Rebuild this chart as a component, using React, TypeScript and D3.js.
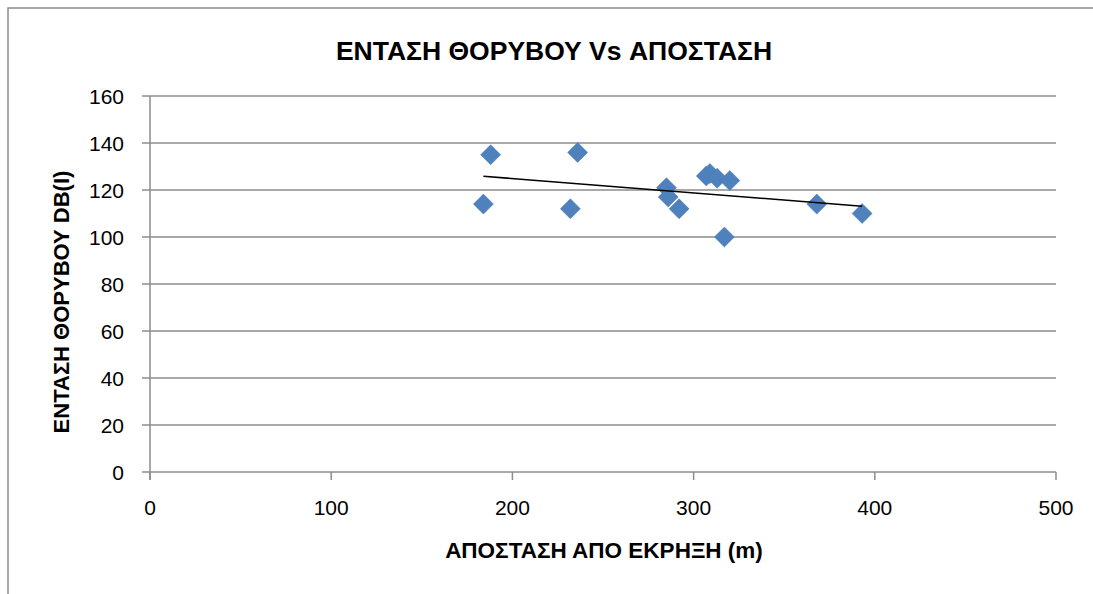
import React from 'react';
import * as d3 from 'd3';

// distance (m) and noise level dB(I)
const distance = [188, 236, 184, 232, 285, 286, 292, 307, 309, 313, 320, 317, 368, 393];
const noise = [135, 136, 114, 112, 121, 117, 112, 126, 127, 125, 124, 100, 114, 110];

const xTicks = [0, 100, 200, 300, 400, 500];
const yTicks = [0, 20, 40, 60, 80, 100, 120, 140, 160];

const chartTitle = 'ΕΝΤΑΣΗ ΘΟΡΥΒΟΥ Vs ΑΠΟΣΤΑΣΗ';
const xTitle = 'ΑΠΟΣΤΑΣΗ ΑΠΟ ΕΚΡΗΞΗ (m)';
const yTitle = 'ΕΝΤΑΣΗ ΘΟΡΥΒΟΥ DB(I)';

const W = 1093;
const H = 594;
const margin = { top: 96, right: 37, bottom: 122, left: 150 };
const FONT = '"Liberation Sans", Arial, sans-serif';
const GRID = '#8c8c8c';

export default function App() {
  const x = d3.scaleLinear().domain([0, 500]).range([margin.left, W - margin.right]);
  const y = d3.scaleLinear().domain([0, 160]).range([H - margin.bottom, margin.top]);

  const pts = distance.map((d, i) => ({ x: d, y: noise[i] }));

  // least squares trendline
  const mx = d3.mean(distance)!;
  const my = d3.mean(noise)!;
  const slope =
    d3.sum(pts, p => (p.x - mx) * (p.y - my)) / d3.sum(pts, p => (p.x - mx) ** 2);
  const icpt = my - slope * mx;
  const [x0, x1] = d3.extent(distance) as [number, number];
  const trend = d3.line<number>().x(d => x(d)).y(d => y(icpt + slope * d))([x0, x1]);

  const diamond = d3.symbol().type(d3.symbolSquare).size(200)();

  return (
    <svg
      width={W}
      height={H}
      style={{ position: 'fixed', left: 0, top: 0, background: '#fff' }}
      fontFamily={FONT}
    >
      <rect x={8} y={8} width={W + 20} height={H + 20} fill="#fff" stroke="#8c8c8c" strokeWidth={1.5} />

      {yTicks.map(t => (
        <g key={'y' + t}>
          <line x1={margin.left - 8} x2={x(500)} y1={y(t)} y2={y(t)} stroke={GRID} strokeWidth={1.5} />
          <text x={124} y={y(t)} dy="0.36em" textAnchor="end" fontSize={21} fill="#000">
            {t}
          </text>
        </g>
      ))}

      <line x1={x(0)} x2={x(0)} y1={y(160)} y2={y(0) + 8} stroke={GRID} strokeWidth={1.5} />
      {xTicks.map(t => (
        <g key={'x' + t}>
          <line x1={x(t)} x2={x(t)} y1={y(0)} y2={y(0) + 8} stroke={GRID} strokeWidth={1.5} />
          <text x={x(t)} y={515} textAnchor="middle" fontSize={21} fill="#000">
            {t}
          </text>
        </g>
      ))}

      {pts.map((p, i) => (
        <path
          key={i}
          d={diamond!}
          transform={`translate(${x(p.x)},${y(p.y)}) rotate(45)`}
          fill="#4f81bd"
          stroke="#4a7ab3"
          strokeWidth={0.5}
        />
      ))}

      <path d={trend!} fill="none" stroke="#000" strokeWidth={1.6} />

      <text x={554} y={60} textAnchor="middle" fontSize={26.5} fontWeight="bold">
        {chartTitle}
      </text>
      <text x={604} y={558} textAnchor="middle" fontSize={22.5} fontWeight="bold">
        {xTitle}
      </text>
      <text
        transform={`translate(69, 302) rotate(-90)`}
        textAnchor="middle"
        fontSize={22}
        fontWeight="bold"
      >
        {yTitle}
      </text>
    </svg>
  );
}
